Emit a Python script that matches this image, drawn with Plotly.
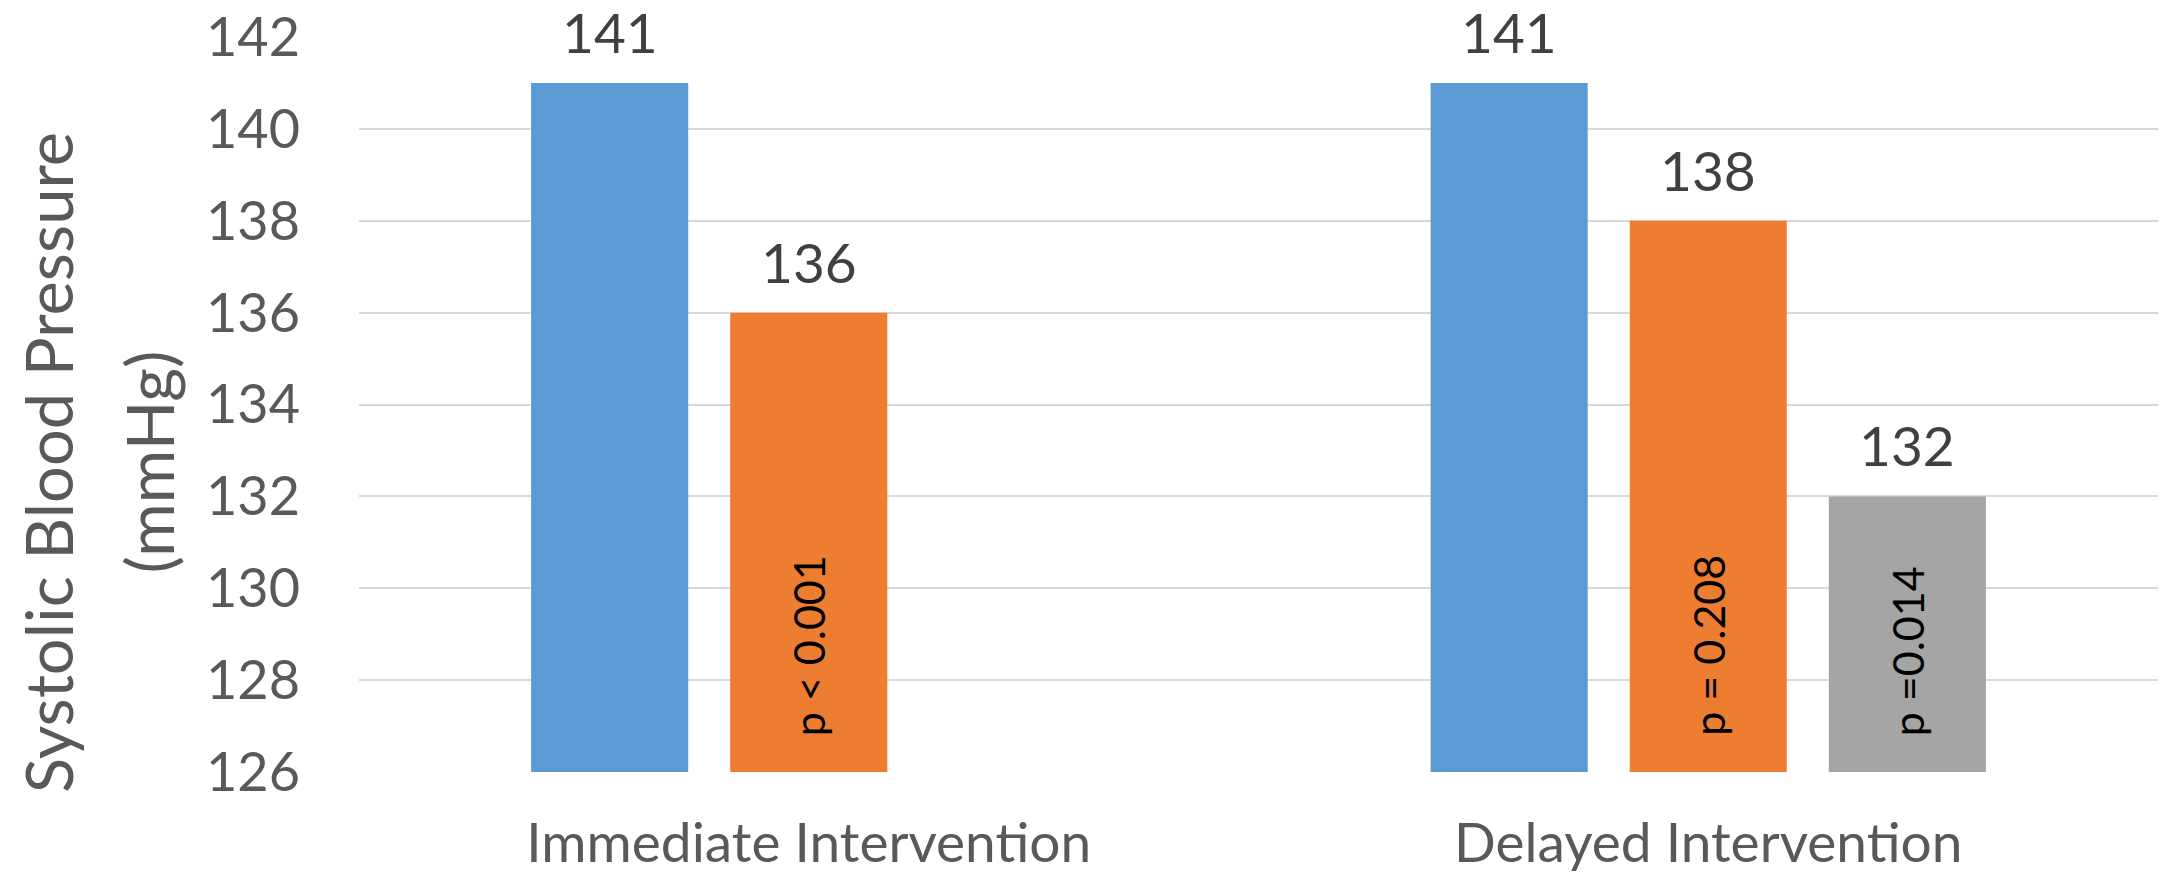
import plotly.graph_objects as go

# Systolic blood pressure by study arm
categories = ["Immediate Intervention", "Delayed Intervention"]
baseline = [141, 141]
first_followup = [136, 138]
second_followup = [None, 132]

first_p = ["p < 0.001", "p = 0.208"]
second_p = [None, "p =0.014"]

y_ticks = [126, 128, 130, 132, 134, 136, 138, 140, 142]
y_title_lines = ["Systolic Blood Pressure", "(mmHg)"]

series = [
    ("Baseline", baseline, None, "#5B9BD5"),
    ("Follow-up 1", first_followup, first_p, "#ED7D31"),
    ("Follow-up 2", second_followup, second_p, "#A5A5A5"),
]

W, H = 2165, 875
ML, MR, MT, MB = 359, 7, 37, 103
BARGAP, BARGROUPGAP = 0.336, 0.211
FONT = "Lato"

plot_w = W - ML - MR
cat_w = plot_w / len(categories)
slot_w = (1 - BARGAP) * cat_w / len(series)

fig = go.Figure()
annotations = []
for i, (name, vals, plabels, color) in enumerate(series):
    fig.add_trace(go.Bar(
        x=categories, y=vals, name=name,
        marker=dict(color=color, line=dict(width=0)),
        hoverinfo="x+y",
    ))
    offset = (i - (len(series) - 1) / 2) * slot_w
    for j, v in enumerate(vals):
        if v is None:
            continue
        annotations.append(dict(
            x=categories[j], y=v, xref="x", yref="y",
            text=str(v), showarrow=False,
            xanchor="center", yanchor="bottom",
            xshift=offset, yshift=16,
            font=dict(family=FONT, size=55, color="#404040"),
        ))
        if plabels is not None and plabels[j]:
            annotations.append(dict(
                x=categories[j], y=y_ticks[0], xref="x", yref="y",
                text=plabels[j], showarrow=False, textangle=-90,
                xanchor="center", yanchor="bottom",
                xshift=offset, yshift=34,
                font=dict(family=FONT, size=43, color="#000000"),
            ))

# two-line rotated axis title, each line placed on its own
for line, xpos in zip(y_title_lines, [-0.1729, -0.1170]):
    annotations.append(dict(
        x=xpos, y=0.4218, xref="paper", yref="paper",
        text=line, showarrow=False,
        textangle=-90, xanchor="center", yanchor="middle",
        font=dict(family=FONT, size=65, color="#595959"),
    ))

fig.update_layout(
    width=W, height=H,
    margin=dict(l=ML, r=MR, t=MT, b=MB),
    paper_bgcolor="white", plot_bgcolor="white",
    barmode="group", bargap=BARGAP, bargroupgap=BARGROUPGAP,
    showlegend=False,
    annotations=annotations,
    font=dict(family=FONT, color="#595959"),
)
fig.update_xaxes(
    showgrid=False, showline=False, ticks="", zeroline=False,
    tickfont=dict(family=FONT, size=55, color="#595959"),
    ticklabelstandoff=34, automargin=False,
)
fig.update_yaxes(
    range=[y_ticks[0], y_ticks[-1]], tickvals=y_ticks,
    showgrid=True, gridcolor="#D9D9D9", gridwidth=2,
    zeroline=False, showline=False, ticks="",
    tickfont=dict(family=FONT, size=54, color="#595959"),
    ticklabelstandoff=58, automargin=False,
)

fig.write_html("out.html")
